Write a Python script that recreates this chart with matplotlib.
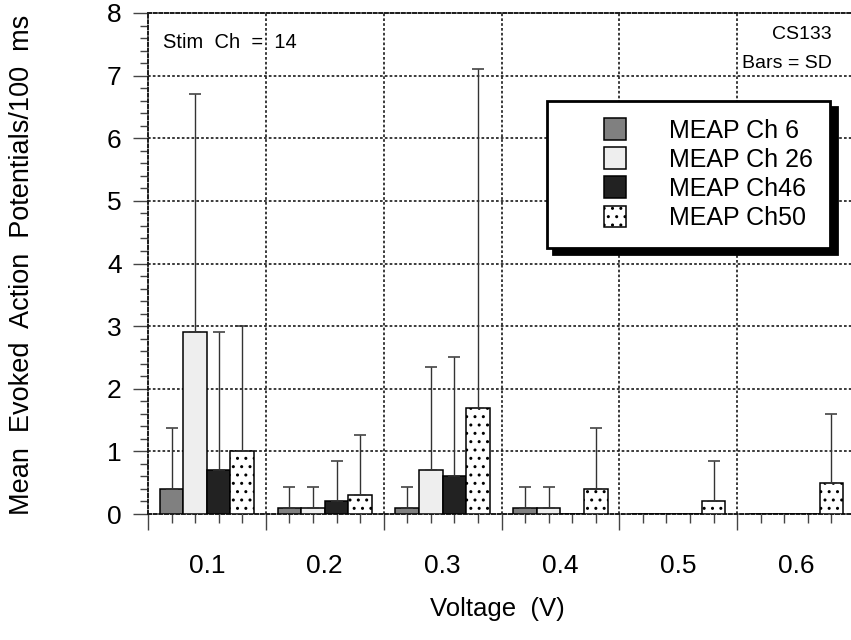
import numpy as np
import matplotlib
matplotlib.use("Agg")
import matplotlib.pyplot as plt
from matplotlib.patches import Rectangle
from matplotlib.container import BarContainer
from matplotlib.legend_handler import HandlerPatch, update_from_first_child

plt.rcParams['font.family'] = ['Liberation Sans', 'DejaVu Sans']
plt.rcParams['hatch.linewidth'] = 1.0

# Stimulation voltages and evoked responses (mean and SD) per MEAP channel
voltages = ["0.1", "0.2", "0.3", "0.4", "0.5", "0.6"]
channels = ["MEAP Ch 6", "MEAP Ch 26", "MEAP Ch46", "MEAP Ch50"]
ch6_mean = [0.4, 0.1, 0.1, 0.1, 0.0, 0.0]
ch6_sd = [0.97, 0.33, 0.33, 0.33, 0.0, 0.0]
ch26_mean = [2.9, 0.1, 0.7, 0.1, 0.0, 0.0]
ch26_sd = [3.8, 0.33, 1.64, 0.33, 0.0, 0.0]
ch46_mean = [0.7, 0.2, 0.6, 0.0, 0.0, 0.0]
ch46_sd = [2.2, 0.64, 1.9, 0.0, 0.0, 0.0]
ch50_mean = [1.0, 0.3, 1.7, 0.4, 0.2, 0.5]
ch50_sd = [2.0, 0.96, 5.4, 0.97, 0.64, 1.1]

means = [ch6_mean, ch26_mean, ch46_mean, ch50_mean]
sds = [ch6_sd, ch26_sd, ch46_sd, ch50_sd]
faces = ["#808080", "#eeeeee", "#222222", "white"]
hatches = [None, None, None, ".."]

W, H = 851, 640
fig = plt.figure(figsize=(W / 100, H / 100), dpi=100)
ax = fig.add_axes([148 / W, (H - 514) / H, 707 / W, (514 - 13) / H])

n = len(voltages)
centers = np.arange(n) + 0.5
bw = 0.2
offsets = (np.arange(4) - 1.5) * bw

grid_ls = (0, (1.6, 1.3))
bars = []
for k in range(4):
    xs = centers + offsets[k]
    b = ax.bar(xs, means[k], width=bw, color=faces[k], edgecolor="black",
               linewidth=1.1, hatch=hatches[k], zorder=3, label=channels[k])
    bars.append(b)
    m = np.array(means[k])
    s = np.array(sds[k])
    show = s > 0
    ax.errorbar(xs[show], m[show], yerr=[np.zeros(show.sum()), s[show]],
                fmt="none", ecolor="#333333", elinewidth=1.0, capsize=4.3,
                capthick=1.1, zorder=4)

ax.set_xlim(0, n)
ax.set_ylim(0, 8)

# grid lines at group boundaries and integer counts
for gx in range(1, n):
    ax.axvline(gx, color="#1a1a1a", lw=1.2, ls=grid_ls, zorder=1)
for gy in range(1, 8):
    ax.axhline(gy, color="#1a1a1a", lw=1.2, ls=grid_ls, zorder=1)
for sp in ax.spines.values():
    sp.set_linestyle(grid_ls)
    sp.set_linewidth(1.4)
    sp.set_color("#1a1a1a")

# y axis ticks
ax.set_yticks(np.arange(0, 9))
ax.set_yticks(np.arange(0, 8.01, 0.2), minor=True)
ax.tick_params(axis="y", which="major", length=11, width=1.0, color="#444444",
               labelsize=19, pad=8)
ax.tick_params(axis="y", which="minor", length=5.8, width=1.0, color="#444444")

# x axis: long ticks at group edges, short ticks under each bar
ax.set_xticks(np.arange(0, n + 1), labels=[])
bar_pos = np.sort(np.concatenate([centers + o for o in offsets]))
ax.set_xticks(bar_pos, minor=True)
ax.tick_params(axis="x", which="major", length=11.5, width=1.0, color="#444444")
ax.tick_params(axis="x", which="minor", length=6.5, width=1.0, color="#444444")

sec = ax.secondary_xaxis("bottom")
sec.set_xticks(centers, labels=voltages)
sec.tick_params(length=0, pad=29, labelsize=19)
sec.spines["bottom"].set_visible(False)

fig.text(22 / W, 1 - 265 / H, "Mean  Evoked  Action  Potentials/100  ms",
         rotation=90, ha="center", va="center", fontsize=19.5)
fig.text(497 / W, 1 - 609 / H, "Voltage  (V)", ha="center", va="center",
         fontsize=18.5)

ax.text(0.021, 0.942, "Stim  Ch  =  14", transform=ax.transAxes, fontsize=14.5,
        ha="left", va="center")
ax.text(0.9675, 0.958, "CS133", transform=ax.transAxes, fontsize=14,
        ha="right", va="center")
ax.text(0.9675, 0.900, "Bars = SD", transform=ax.transAxes, fontsize=14,
        ha="right", va="center")


def square_handle(legend, orig_handle, xdescent, ydescent, width, height, fontsize):
    s = 15.8
    return Rectangle((-xdescent + width - s, -ydescent + (height - s) / 2), s, s)


leg = ax.legend(handles=bars, labels=channels, loc="upper left",
                bbox_to_anchor=((547 - 148) / 707, (514 - 101) / 501),
                fontsize=18, frameon=True, fancybox=False, framealpha=1,
                edgecolor="black", borderpad=0.7, handlelength=2.46,
                handletextpad=1.72, labelspacing=0.21, borderaxespad=0,
                handler_map={BarContainer: HandlerPatch(patch_func=square_handle,
                                                        update_func=update_from_first_child)},
                shadow={"ox": 4.5, "oy": -4.5, "color": "black", "alpha": 1})
leg.get_frame().set_linewidth(2.0)
leg.set_zorder(10)

fig.savefig("out.png", dpi=100)
